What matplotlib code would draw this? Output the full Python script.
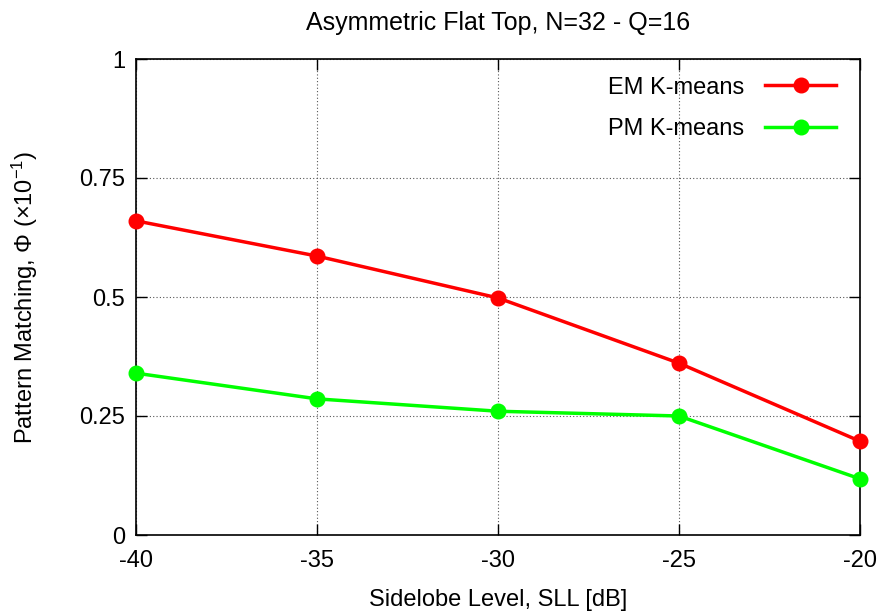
import matplotlib
matplotlib.use("Agg")
import matplotlib.pyplot as plt

plt.rcParams['font.family'] = ['Liberation Sans', 'DejaVu Sans']
plt.rcParams['mathtext.fontset'] = 'custom'
plt.rcParams['mathtext.rm'] = 'Liberation Sans'
plt.rcParams['mathtext.it'] = 'Liberation Sans:italic'

sll = [-40, -35, -30, -25, -20]
em_kmeans = [0.660, 0.586, 0.498, 0.361, 0.197]
pm_kmeans = [0.340, 0.286, 0.260, 0.250, 0.118]
xticks = [-40, -35, -30, -25, -20]
yticks = [0, 0.25, 0.5, 0.75, 1]
yticklabels = ['0', '0.25', '0.5', '0.75', '1']

fig = plt.figure(figsize=(8.8, 6.14), dpi=100)
ax = fig.add_axes([136/880, 79/614, 724/880, 476/614])

ax.plot(sll, em_kmeans, color='#ff0000', lw=2.5, marker='o', ms=10.5,
        label='EM K-means', clip_on=False, zorder=3)
ax.plot(sll, pm_kmeans, color='#00ff00', lw=2.5, marker='o', ms=10.5,
        label='PM K-means', clip_on=False, zorder=3)

ax.set_xlim(-40, -20)
ax.set_ylim(0, 1)
ax.set_xticks(xticks)
ax.set_xticklabels([str(v) for v in xticks])
ax.set_yticks(yticks)
ax.set_yticklabels(yticklabels)
ax.tick_params(direction='in', top=True, right=True, labelsize=17, length=8, width=1)
ax.tick_params(axis='x', pad=11)
ax.tick_params(axis='y', pad=8)
ax.grid(True, linestyle=(0, (1, 2)), color='#555555', lw=0.8)
for s in ax.spines.values():
    s.set_linewidth(1.2)

ax.set_title('Asymmetric Flat Top, N=32 - Q=16', fontsize=18, pad=21)
ax.set_xlabel('Sidelobe Level, SLL [dB]', fontsize=17, labelpad=12)
ax.set_ylabel(r'Pattern Matching, $\Phi$ ($\times$10$^{-1}$)', fontsize=17, labelpad=28)

leg = ax.legend(loc='upper right', bbox_to_anchor=(0.98, 0.983), frameon=False,
                markerfirst=False, fontsize=17, handlelength=3.0, borderaxespad=0.0,
                labelspacing=0.82, handletextpad=0.9)

fig.savefig('out.png', dpi=100)
